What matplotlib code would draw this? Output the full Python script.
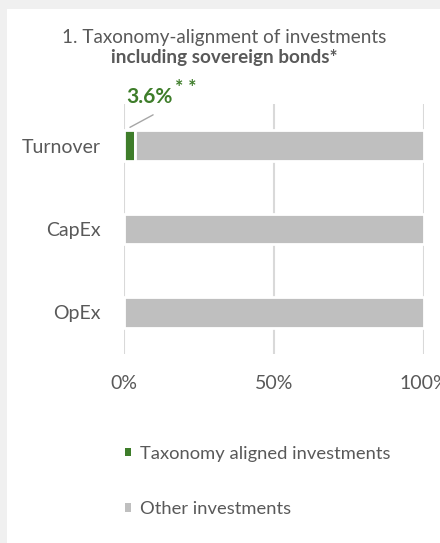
import matplotlib
matplotlib.use('Agg')
import matplotlib.pyplot as plt
from matplotlib.patches import Rectangle, Patch

# data
categories = ['Turnover', 'CapEx', 'OpEx']
aligned = [3.6, 0.0, 0.0]
other = [96.4, 100.0, 100.0]
ticks = [0, 50, 100]
tick_labels = ['0%', '50%', '100%']
legend_labels = ['Taxonomy aligned investments', 'Other investments']

green = '#3e7d2a'
grey = '#bfbfbf'
txt = '#595959'

plt.rcParams['font.family'] = ['Lato', 'DejaVu Sans']

W, H = 440, 543
fig = plt.figure(figsize=(W / 100, H / 100), dpi=100)
fig.patch.set_facecolor('#f0f0f0')
fig.patches.append(Rectangle((7 / W, 0), 1, 1 - 9 / H, transform=fig.transFigure,
                             facecolor='white', edgecolor='none', zorder=-5))

ax = fig.add_axes([124 / W, 1 - 354 / H, 300 / W, 250 / H])
ax.set_facecolor('none')

y = range(len(categories))
ax.barh(y, aligned, height=0.37, color=green, edgecolor='white', linewidth=2, zorder=3)
ax.barh(y, other, left=aligned, height=0.37, color=grey, edgecolor='white', linewidth=2,
        zorder=3)

ax.set_ylim(2.5, -0.5)
ax.set_xlim(0, 100)
ax.set_xticks(ticks)
ax.set_xticklabels(tick_labels)
ax.set_yticks(list(y))
ax.set_yticklabels(categories)
ax.tick_params(axis='both', length=0, colors=txt, labelsize=14)
ax.tick_params(axis='x', pad=15)
ax.tick_params(axis='y', pad=17)
ax.xaxis.grid(True, color='#d9d9d9', linewidth=1.5, zorder=0)
ax.set_axisbelow(True)
for s in ax.spines.values():
    s.set_visible(False)

# data label with leader line
ax.annotate('', xy=(aligned[0] * 0.55, -0.22), xytext=(9.7, -0.37),
            annotation_clip=False,
            arrowprops=dict(arrowstyle='-', color='#a6a6a6', lw=1, shrinkA=0, shrinkB=0))
ax.text(0.8, -0.58, '%.1f%%' % aligned[0], color=green, fontsize=15, fontweight='bold',
        ha='left', va='center')
ax.text(17.0, -0.70, '* *', color=green, fontsize=14, fontweight='bold',
        ha='left', va='center')

fig.text(0.509, 1 - 38 / H, '1. Taxonomy-alignment of investments', ha='center', va='center',
         color=txt, fontsize=13.6)
fig.text(0.509, 1 - 57 / H, 'including sovereign bonds*', ha='center', va='center',
         color=txt, fontsize=13.6, fontweight='bold')

handles = [Patch(facecolor=green, edgecolor='none'), Patch(facecolor=grey, edgecolor='none')]
fig.legend(handles=handles, labels=legend_labels, loc='upper left',
           bbox_to_anchor=(108 / W, 1 - 429 / H),
           frameon=False, fontsize=13.2, labelcolor=txt, handlelength=0.35,
           handleheight=0.35, handletextpad=0.5, labelspacing=2.15)

fig.savefig('out.png', dpi=100, facecolor=fig.get_facecolor())
